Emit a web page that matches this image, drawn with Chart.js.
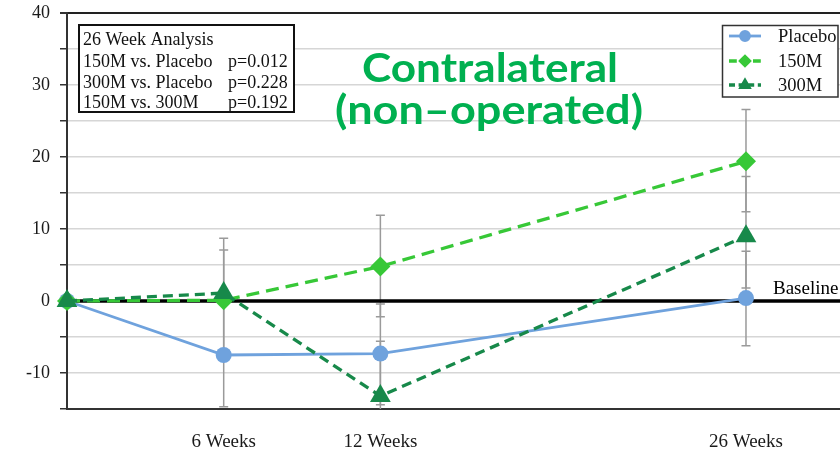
<!DOCTYPE html>
<html>
<head>
<meta charset="utf-8">
<script src="https://cdn.jsdelivr.net/npm/chart.js@4.4.1/dist/chart.umd.min.js"></script>
<style>
  html, body { margin: 0; padding: 0; background: #ffffff; }
  canvas { display: block; }
</style>
</head>
<body>
<canvas id="chart" width="840" height="449"></canvas>
<script>
// Visit times (weeks) and mean change from baseline per group
const weeks = [0, 6, 12, 26];
const placebo = [0, -7.5, -7.3, 0.4];
const dose150 = [0, 0.1, 4.8, 19.4];
const dose300 = [0, 1.1, -13.2, 9.0];

// Error bar limits at each visit (null = no bar end drawn)
const placeboLow  = [null, -14.7, -14.4, -6.2];
const placeboHigh = [null, -0.3, -0.4, 6.9];
const dose150Low  = [null, -8.2, -2.2, 12.4];
const dose150High = [null, 8.7, 11.9, 26.6];
const dose300Low  = [null, null, -20.8, 1.8];
const dose300High = [null, 7.1, -5.6, 17.3];

const seriesNames = ['Placebo', '150M', '300M'];
const tickWeeks = [6, 12, 26];
const tickLabels = ['6 Weeks', '12 Weeks', '26 Weeks'];
const yMin = -15, yMax = 40, yStep = 5;
const xMax = 29.6;

const statsRows = [
  ['26 Week Analysis', ''],
  ['150M vs. Placebo', 'p=0.012'],
  ['300M vs. Placebo', 'p=0.228'],
  ['150M vs. 300M', 'p=0.192']
];
const titleLines = ['Contralateral', '(non\u2013operated)'];
const baselineText = 'Baseline';

const SERIF = '"Liberation Serif", "Times New Roman", serif';
const colPlacebo = '#6fa2dd';
const col150 = '#37c837';
const col300 = '#17894a';

const toPoints = arr => weeks.map((w, i) => ({ x: w, y: arr[i] }));

const errorBars = [
  { low: placeboLow, high: placeboHigh },
  { low: dose150Low, high: dose150High },
  { low: dose300Low, high: dose300High }
];

// Grey whiskers behind the markers
const errorBarPlugin = {
  id: 'errorBars',
  beforeDatasetsDraw(chart) {
    const { ctx, chartArea, scales: { x, y } } = chart;
    ctx.save();
    ctx.beginPath();
    ctx.rect(chartArea.left, chartArea.top, chartArea.right - chartArea.left, chartArea.bottom - chartArea.top);
    ctx.clip();
    ctx.strokeStyle = '#9a9a9a';
    ctx.lineWidth = 1.5;
    const cap = 4.5;
    errorBars.forEach((eb, s) => {
      const vals = [placebo, dose150, dose300][s];
      weeks.forEach((w, i) => {
        const px = x.getPixelForValue(w);
        const mid = y.getPixelForValue(vals[i]);
        [eb.low[i], eb.high[i]].forEach(v => {
          if (v === null) return;
          const py = y.getPixelForValue(v);
          ctx.beginPath();
          ctx.moveTo(px, mid);
          ctx.lineTo(px, py);
          ctx.moveTo(px - cap, py);
          ctx.lineTo(px + cap, py);
          ctx.stroke();
        });
      });
    });
    ctx.restore();
  }
};

// Title, statistics box, legend and baseline caption
const overlayPlugin = {
  id: 'overlay',
  afterDraw(chart) {
    const { ctx, scales: { x, y } } = chart;
    ctx.save();

    // Title in green, two lines
    ctx.fillStyle = '#00b050';
    ctx.textAlign = 'center';
    ctx.textBaseline = 'alphabetic';
    const titleSpec = [
      { text: titleLines[0], cx: 490, base: 82, width: 256 },
      { text: titleLines[1], cx: 489, base: 124, width: 308 }
    ];
    titleSpec.forEach(t => {
      ctx.font = 'bold 41px Lato, "Open Sans", sans-serif';
      const w = ctx.measureText(t.text).width;
      ctx.save();
      ctx.translate(t.cx, t.base);
      ctx.scale(t.width / w, 1);
      ctx.fillText(t.text, 0, 0);
      ctx.restore();
    });

    // Statistics box
    ctx.fillStyle = '#ffffff';
    ctx.fillRect(79, 25, 215, 87);
    ctx.strokeStyle = '#111';
    ctx.lineWidth = 2;
    ctx.strokeRect(79, 25, 215, 87);
    ctx.fillStyle = '#111';
    ctx.font = '18px ' + SERIF;
    ctx.textAlign = 'left';
    const rowBase = [45, 67, 88, 108];
    statsRows.forEach((r, i) => {
      ctx.fillText(r[0], 83, rowBase[i]);
      if (r[1]) ctx.fillText(r[1], 228, rowBase[i]);
    });

    // Legend box
    ctx.fillStyle = '#ffffff';
    ctx.fillRect(722, 25, 116, 72);
    ctx.strokeStyle = '#333';
    ctx.lineWidth = 1.5;
    ctx.strokeRect(722.5, 25.5, 115.5, 71.5);
    const rowsY = [36, 61, 85];
    chart.data.datasets.slice(0, 3).forEach((ds, i) => {
      const yy = rowsY[i];
      ctx.strokeStyle = ds.borderColor;
      ctx.lineWidth = ds.borderWidth;
      ctx.setLineDash(ds.borderDash ? ds.borderDash.map(d => d * 0.6) : []);
      ctx.beginPath();
      ctx.moveTo(729, yy);
      ctx.lineTo(761, yy);
      ctx.stroke();
      ctx.setLineDash([]);
      ctx.fillStyle = ds.pointBackgroundColor;
      ctx.strokeStyle = ds.pointBackgroundColor;
      Chart.helpers.drawPoint(ctx, { pointStyle: ds.pointStyle, radius: 4.5, borderWidth: 1 }, 745, yy);
      ctx.fillStyle = '#111';
      ctx.font = '18.5px ' + SERIF;
      ctx.textAlign = 'left';
      ctx.textBaseline = 'middle';
      ctx.fillText(seriesNames[i], 778, yy + 1);
    });

    // Caption on the zero line
    ctx.fillStyle = '#000';
    ctx.font = '19px ' + SERIF;
    ctx.textAlign = 'left';
    ctx.textBaseline = 'alphabetic';
    ctx.fillText(baselineText, 773, y.getPixelForValue(0) - 7);

    ctx.restore();
  }
};

new Chart(document.getElementById('chart'), {
  type: 'line',
  data: {
    datasets: [
      {
        label: seriesNames[0],
        data: toPoints(placebo),
        borderColor: colPlacebo,
        backgroundColor: colPlacebo,
        pointBackgroundColor: colPlacebo,
        pointBorderColor: colPlacebo,
        borderWidth: 2.8,
        pointStyle: 'circle',
        pointRadius: 8,
        pointBorderWidth: 0,
        order: 3,
        clip: false
      },
      {
        label: seriesNames[1],
        data: toPoints(dose150),
        borderColor: col150,
        backgroundColor: col150,
        pointBackgroundColor: col150,
        pointBorderColor: col150,
        borderWidth: 3.3,
        borderDash: [13, 7],
        pointStyle: 'rectRot',
        pointRadius: 10,
        pointBorderWidth: 0,
        order: 2,
        clip: false
      },
      {
        label: seriesNames[2],
        data: toPoints(dose300),
        borderColor: col300,
        backgroundColor: col300,
        pointBackgroundColor: col300,
        pointBorderColor: col300,
        borderWidth: 3.3,
        borderDash: [10, 6],
        pointStyle: 'triangle',
        pointRadius: 12,
        pointBorderWidth: 0,
        order: 1,
        clip: false
      },
      {
        label: 'zero',
        data: [{ x: 0, y: 0 }, { x: xMax, y: 0 }],
        borderColor: '#000000',
        borderWidth: 3.5,
        pointRadius: 0,
        order: 5,
        clip: false
      }
    ]
  },
  options: {
    responsive: false,
    animation: false,
    devicePixelRatio: 1,
    layout: { autoPadding: false, padding: { top: 13, left: 0, right: 0, bottom: 0 } },
    plugins: {
      legend: { display: false },
      tooltip: { enabled: false },
      title: { display: false }
    },
    elements: { line: { tension: 0 } },
    scales: {
      x: {
        type: 'linear',
        min: 0,
        max: xMax,
        afterBuildTicks(scale) {
          scale.ticks = tickWeeks.map(v => ({ value: v }));
        },
        afterFit(scale) {
          scale.height = 40;
          scale.paddingLeft = 0;
          scale.paddingRight = 0;
        },
        grid: { display: false, drawTicks: false },
        border: { display: true, color: '#333', width: 2 },
        ticks: {
          autoSkip: false,
          maxRotation: 0,
          padding: 22,
          color: '#1a1a1a',
          font: { family: SERIF, size: 19 },
          callback: v => tickLabels[tickWeeks.indexOf(v)] || ''
        }
      },
      y: {
        min: yMin,
        max: yMax,
        afterFit(scale) {
          scale.width = 67;
          scale.paddingTop = 0;
          scale.paddingBottom = 0;
        },
        grid: {
          color: ctx => (ctx.tick && ctx.tick.value === yMax) ? '#222' : '#d6d6d6',
          lineWidth: ctx => (ctx.tick && ctx.tick.value === yMax) ? 2 : 1.5,
          tickColor: '#333',
          tickLength: 7,
          drawTicks: true
        },
        border: { display: true, color: '#333', width: 2 },
        ticks: {
          stepSize: yStep,
          autoSkip: false,
          padding: 10,
          color: '#1a1a1a',
          font: { family: SERIF, size: 18 },
          callback: v => (v % 10 === 0 ? String(v) : '')
        }
      }
    }
  },
  plugins: [errorBarPlugin, overlayPlugin]
});
</script>
</body>
</html>
